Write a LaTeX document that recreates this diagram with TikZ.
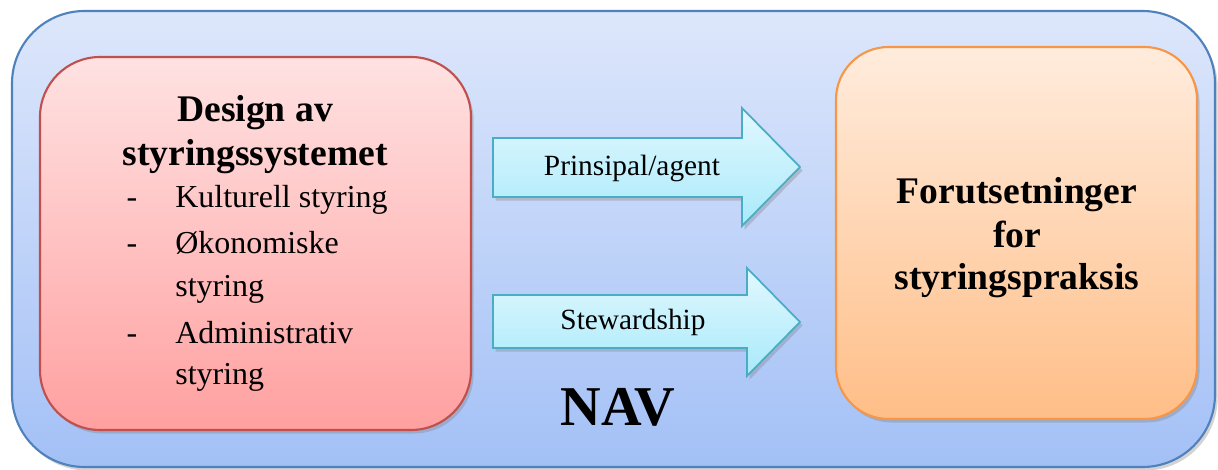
\documentclass[tikz,border=0pt]{standalone}
\usepackage{fontspec}
\setmainfont{Liberation Serif}
\usetikzlibrary{shadows}

\definecolor{navline}{RGB}{79,129,189}
\definecolor{navtop}{RGB}{221,231,251}
\definecolor{navbot}{RGB}{163,192,246}
\definecolor{redline}{RGB}{192,80,77}
\definecolor{redtop}{RGB}{255,226,226}
\definecolor{redbot}{RGB}{255,160,160}
\definecolor{orline}{RGB}{247,150,70}
\definecolor{ortop}{RGB}{255,236,221}
\definecolor{orbot}{RGB}{255,190,135}
\definecolor{arline}{RGB}{75,172,198}
\definecolor{artop}{RGB}{226,248,255}
\definecolor{arbot}{RGB}{168,234,250}

\tikzset{
  boxshadow/.style={drop shadow={opacity=0.35, shadow xshift=1.5pt, shadow yshift=-2pt}},
  bigbox/.style={line width=1.2pt, boxshadow},
  blockarrow/.style={draw=arline, line width=1pt, top color=artop, bottom color=arbot, boxshadow},
  headtext/.style={font=\bfseries\fontsize{21.4}{25}\selectfont, align=center, anchor=base},
  itemtext/.style={font=\fontsize{18.2}{21}\selectfont, anchor=base west, inner sep=0pt},
  dashtext/.style={font=\fontsize{18.2}{21}\selectfont, anchor=base, inner sep=0pt},
  arrowtext/.style={font=\fontsize{16.7}{19}\selectfont}
}

\begin{document}
\begin{tikzpicture}[x=0.02cm,y=-0.02cm]
            \useasboundingbox (0,0) rectangle (1218,470);

            % Outer NAV box
            \draw[bigbox, draw=navline, top color=navtop, bottom color=navbot, rounded corners=1.45cm]
                (12,11) rectangle (1215,467);

            % Left box
            \draw[bigbox, draw=redline, top color=redtop, bottom color=redbot, rounded corners=1.2cm]
                (40,57) rectangle (471,430);

            % Right box
            \draw[bigbox, draw=orline, top color=ortop, bottom color=orbot, rounded corners=1.05cm]
                (836,47) rectangle (1197,419);

            % Arrows
            \draw[blockarrow] (493,138) -- (742,138) -- (742,108) -- (800,167)
                -- (742,226) -- (742,197) -- (493,197) -- cycle;
            \draw[blockarrow] (493,295) -- (747,295) -- (747,268) -- (800,322)
                -- (747,376) -- (747,348) -- (493,348) -- cycle;

            \node[arrowtext] (principal) at (632,168) {Prinsipal/agent};
            \node[arrowtext] (steward) at (633,322) {Stewardship};

            % Left box text
            \node[headtext] (design) at (255,121) {Design av};
            \node[headtext] (system) at (255,165) {styringssystemet};

            \node[dashtext] (d1) at (132,207) {-};
            \node[dashtext] (d2) at (132,253) {-};
            \node[dashtext] (d3) at (132,343) {-};

            \node[itemtext] (kultur) at (175,207) {Kulturell styring};
            \node[itemtext] (okon) at (175,253) {Økonomiske};
            \node[itemtext] (okon2) at (175,296) {styring};
            \node[itemtext] (admin) at (175,343) {Administrativ};
            \node[itemtext] (admin2) at (175,384) {styring};

            % Right box text
            \node[headtext] (forut) at (1017,203) {Forutsetninger};
            \node[headtext] (for) at (1017,247) {for};
            \node[headtext] (praksis) at (1017,289) {styringspraksis};

            \node[font=\bfseries\fontsize{32}{36}\selectfont, anchor=base] (nav) at (618,425) {NAV};

        \end{tikzpicture}
\end{document}
